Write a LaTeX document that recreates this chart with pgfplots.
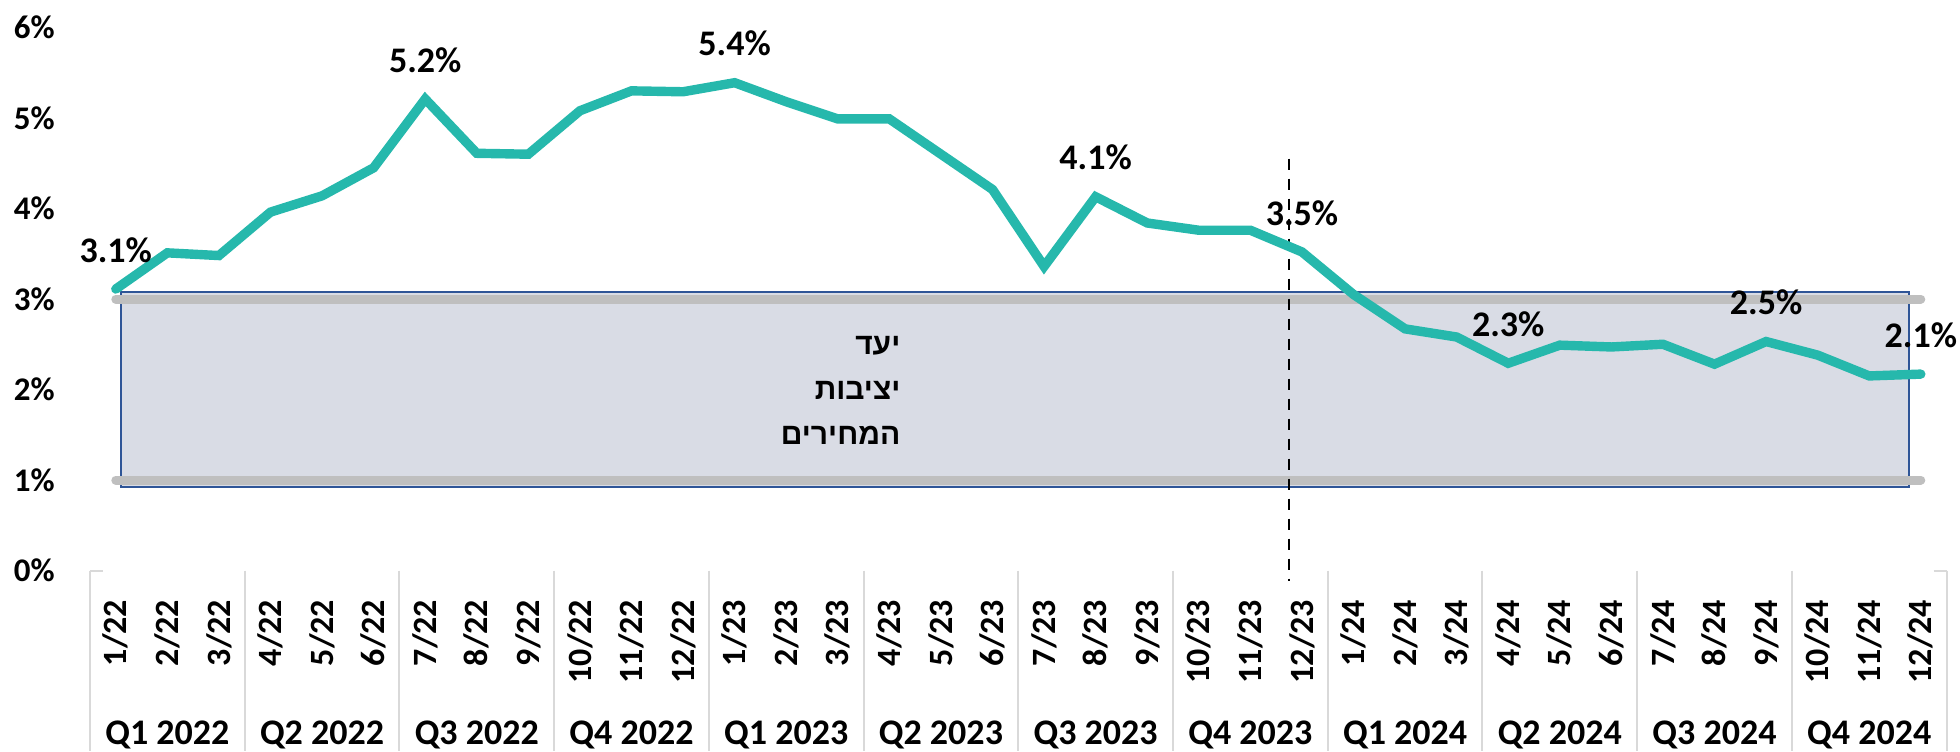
\documentclass[border=0pt]{standalone}
\usepackage{fontspec}
\setmainfont{Carlito}
\newfontfamily\hebfont[Script=Hebrew]{Liberation Sans}
\TeXXeTstate=1
\usepackage{pgfplots}
\pgfplotsset{compat=1.18}

\definecolor{teal}{RGB}{38,184,172}
\definecolor{bandfill}{RGB}{217,220,229}
\definecolor{bandedge}{RGB}{47,85,151}
\definecolor{targetgray}{RGB}{191,191,191}
\definecolor{sepgray}{RGB}{217,217,217}

\begin{document}
\begin{tikzpicture}
\begin{axis}[
    at={(0pt,0pt)}, anchor=south west,
    scale only axis,
    width=928.3pt, height=271.5pt,
    xmin=-0.5, xmax=35.5, ymin=0, ymax=6,
    clip=false,
    axis x line*=bottom, axis y line*=left,
    axis line style={draw=none},
    tick style={draw=none},
    xtick={0,...,35},
    xticklabels={1/22,2/22,3/22,4/22,5/22,6/22,7/22,8/22,9/22,10/22,11/22,12/22,
                 1/23,2/23,3/23,4/23,5/23,6/23,7/23,8/23,9/23,10/23,11/23,12/23,
                 1/24,2/24,3/24,4/24,5/24,6/24,7/24,8/24,9/24,10/24,11/24,12/24},
    xticklabel style={rotate=90, anchor=east, inner sep=0pt,
                      font=\bfseries\fontsize{17}{19}\selectfont},
    xticklabel shift=14.5pt,
    ytick={0,...,6},
    yticklabels={0\%,1\%,2\%,3\%,4\%,5\%,6\%},
    yticklabel style={anchor=east, inner sep=0pt, xshift=-17.5pt,
                      font=\bfseries\fontsize{16.5}{19}\selectfont},
]
% price stability target band
\addplot[fill=bandfill, draw=bandedge, line width=1.2pt]
    coordinates {(0.1,0.92) (34.77,0.92) (34.77,3.08) (0.1,3.08)} -- cycle;
\addplot[targetgray, line width=4.5pt, line cap=round] coordinates {(0,3) (35,3)};
\addplot[targetgray, line width=4.5pt, line cap=round] coordinates {(0,1) (35,1)};

% quarter separators
\pgfplotsinvokeforeach{-0.5,2.5,...,35.5}{
  \draw[sepgray, line width=1pt] (axis cs:#1,0) -- ++(0pt,-90.25pt);
}
\draw[sepgray, line width=1pt] (axis cs:-0.5,0) -- (axis cs:-0.25,0);
\draw[sepgray, line width=1pt] (axis cs:35.25,0) -- (axis cs:35.5,0);

% dashed marker
\addplot[black, line width=1.2pt, dash pattern=on 5.5pt off 4.5pt]
    coordinates {(22.75,4.55) (22.75,-0.12)};

% inflation line
\addplot[teal, line width=4.7pt, line cap=round, line join=miter] coordinates {
  (0,3.11) (1,3.51) (2,3.48) (3,3.96) (4,4.14) (5,4.45)
  (6,5.21) (7,4.61) (8,4.60) (9,5.08) (10,5.30) (11,5.29)
  (12,5.39) (13,5.18) (14,4.99) (15,4.99) (16,4.60) (17,4.21)
  (18,3.36) (19,4.13) (20,3.84) (21,3.76) (22,3.76) (23,3.52)
  (24,3.05) (25,2.67) (26,2.58) (27,2.29) (28,2.49) (29,2.47)
  (30,2.50) (31,2.28) (32,2.53) (33,2.38) (34,2.15) (35,2.17)
};

% value labels
\addplot[draw=none, nodes near coords, point meta=explicit symbolic,
    nodes near coords style={anchor=center, yshift=19.5pt, inner sep=0pt,
        font=\bfseries\fontsize{18}{21}\selectfont}]
  coordinates {
  (0,3.11) [3.1\%] (6,5.21) [5.2\%] (12,5.39) [5.4\%] (19,4.13) [4.1\%]
  (23,3.52) [3.5\%] (27,2.29) [2.3\%] (32,2.53) [2.5\%] (35,2.17) [2.1\%]
};

% band caption
\node[anchor=east, align=right, inner sep=0pt,
      font=\hebfont\bfseries\fontsize{15}{22.5}\selectfont]
  at (axis cs:15.22,1.99)
  {\beginR יעד\endR\\ \beginR יציבות\endR\\ \beginR המחירים\endR};

% quarter labels
\foreach \c/\q in {1/Q1 2022,4/Q2 2022,7/Q3 2022,10/Q4 2022,
                   13/Q1 2023,16/Q2 2023,19/Q3 2023,22/Q4 2023,
                   25/Q1 2024,28/Q2 2024,31/Q3 2024,34/Q4 2024}{
  \edef\temp{\noexpand\node[anchor=base, yshift=-87pt, inner sep=0pt,
      font=\noexpand\bfseries\noexpand\fontsize{18}{21}\noexpand\selectfont]
      at (axis cs:\c,0) {\q};}
  \temp
}
\end{axis}
\pgfresetboundingbox
\useasboundingbox (-45pt,-90.25pt) rectangle (935pt,285.25pt);
\end{tikzpicture}
\end{document}
